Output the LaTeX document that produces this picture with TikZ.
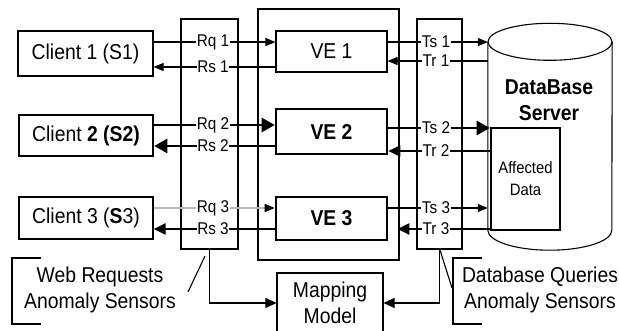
\documentclass[tikz,border=0pt]{standalone}
\usepackage{fontspec}
\setmainfont{Liberation Sans}[FakeStretch=0.9]
\usetikzlibrary{arrows.meta,calc}
\begin{document}
\begin{tikzpicture}[x=1pt,y=-1pt,
  thinl/.style={line width=1.1pt},
  thickl/.style={line width=2.6pt},
  bigfont/.style={font=\fontsize{21.5}{26}\selectfont},
  box/.style={draw, thinl, inner sep=0pt, bigfont, align=center},
  thickbox/.style={box, thickl},
  lbl/.style={fill=white, inner sep=0.6pt, font=\fontsize{17}{18}\selectfont},
  tip/.style={-{Triangle[length=10pt,width=8pt]}},
  bigtip/.style={-{Triangle[length=13pt,width=14pt]}},
  midtip/.style={-{Triangle[length=12pt,width=11pt]}},
  maptip/.style={-{Triangle[length=11pt,width=10pt]}},
]
\useasboundingbox (0,0) rectangle (619,331);
% boxes
\node[box, minimum width=135pt, minimum height=45pt] (c1) at (85.5,53.5) {Client 1 (S1)};
\node[thickbox, minimum width=134pt, minimum height=41pt] (c2) at (86,135.5) {Client \textbf{2 (S2)}};
\node[box, line width=1.3pt, minimum width=134pt, minimum height=42pt] (c3) at (86,218) {Client 3 (\textbf{S}3)};
\node[box, minimum width=57pt, minimum height=230pt] (ls) at (209.5,134) {};
\node[thickbox, minimum width=141pt, minimum height=251pt] (ve) at (328.5,134.5) {};
\node[box, minimum width=111pt, minimum height=41pt] (v1) at (331.5,51.5) {VE 1};
\node[thickbox, minimum width=111pt, minimum height=45pt] (v2) at (331.5,131.5) {\textbf{VE 2}};
\node[thickbox, minimum width=111pt, minimum height=43pt] (v3) at (331.5,218.5) {\textbf{VE 3}};
\node[box, minimum width=45pt, minimum height=230pt] (rs) at (439.5,134) {};
\node[box, minimum width=106pt, minimum height=60pt] (map) at (330,303) {Mapping\\Model};
% database cylinder
\node[inner sep=0pt, minimum width=124pt, minimum height=188pt] (db) at (550,136) {};
\draw[thinl] (db.north west) -- (db.south west)
  arc[start angle=180, end angle=360, x radius=62pt, y radius=20pt] -- (db.north east);
\draw[thinl] (db.north) ellipse [x radius=62pt, y radius=18.5pt];
\node[bigfont, align=center] (dbt) at (549,100) {\textbf{DataBase}\\\textbf{Server}};
\node[thickbox, minimum width=69pt, minimum height=102pt, font=\fontsize{16.5}{22}\selectfont] (aff) at (525.5,179) {Affected\\Data};
% label positions
\coordinate (Lrq1) at (213,42);  \coordinate (Lrs1) at (213,67);
\coordinate (Lrq2) at (213,125); \coordinate (Lrs2) at (213,146);
\coordinate (Lrq3) at (213,208); \coordinate (Lrs3) at (213,229);
\coordinate (Lts1) at (436,42);  \coordinate (Ltr1) at (436,61);
\coordinate (Lts2) at (436,128); \coordinate (Ltr2) at (436,151);
\coordinate (Lts3) at (436,208); \coordinate (Ltr3) at (436,229);
% left connectors
\draw[thinl,tip] (c1.east |- Lrq1) -- (v1.west |- Lrq1);
\draw[thinl,tip] (v1.west |- Lrs1) -- (c1.east |- Lrs1);
\draw[thickl,bigtip] (c2.east |- Lrq2) -- (v2.west |- Lrq2);
\draw[thickl,bigtip] (v2.west |- Lrs2) -- (c2.east |- Lrs2);
\draw[line width=1.4pt, gray!55, -{Triangle[length=10pt,width=8pt,color=black]}] (c3.east |- Lrq3) -- (v3.west |- Lrq3);
\draw[thickl,midtip] (v3.west |- Lrs3) -- (c3.east |- Lrs3);
% right connectors
\draw[thinl,tip] (v1.east |- Lts1) -- (db.west |- Lts1);
\draw[thinl,tip] (db.west |- Ltr1) -- (v1.east |- Ltr1);
\draw[thickl,bigtip] (v2.east |- Lts2) -- (aff.west |- Lts2);
\draw[line width=1.6pt,midtip] (aff.west |- Ltr2) -- (v2.east |- Ltr2);
\draw[thinl,tip] (v3.east |- Lts3) -- (db.west |- Lts3);
\draw[thickl,midtip] (aff.west |- Ltr3) -- ($(v3.east |- Ltr3)+(9,0)$);
% mapping connectors
\draw[thinl,maptip] (ls.south) |- (map.west);
\draw[thinl,maptip] (rs.south) |- (map.east);
% labels
\node[lbl] (rq1) at (Lrq1) {Rq 1};
\node[lbl] (rs1) at (Lrs1) {Rs 1};
\node[lbl] (rq2) at (Lrq2) {Rq 2};
\node[lbl] (rs2) at (Lrs2) {Rs 2};
\node[lbl] (rq3) at (Lrq3) {Rq 3};
\node[lbl] (rs3) at (Lrs3) {Rs 3};
\node[lbl] (ts1) at (Lts1) {Ts 1};
\node[lbl] (tr1) at (Ltr1) {Tr 1};
\node[lbl] (ts2) at (Lts2) {Ts 2};
\node[lbl] (tr2) at (Ltr2) {Tr 2};
\node[lbl] (ts3) at (Lts3) {Ts 3};
\node[lbl] (tr3) at (Ltr3) {Tr 3};
% callouts
\node[bigfont, align=center] (wr) at (100,290) {Web Requests\\Anomaly Sensors};
\draw[thinl] (41,258) -| (12,324) -- (41,324);
\draw[thinl] (188,292) -- (205,256);
\node[bigfont, align=center] (dq) at (540,290) {Database Queries\\Anomaly Sensors};
\draw[thinl] (482,258) -| (453,324) -- (482,324);
\draw[thinl] (440,250) -- (452,288);
\end{tikzpicture}
\end{document}
